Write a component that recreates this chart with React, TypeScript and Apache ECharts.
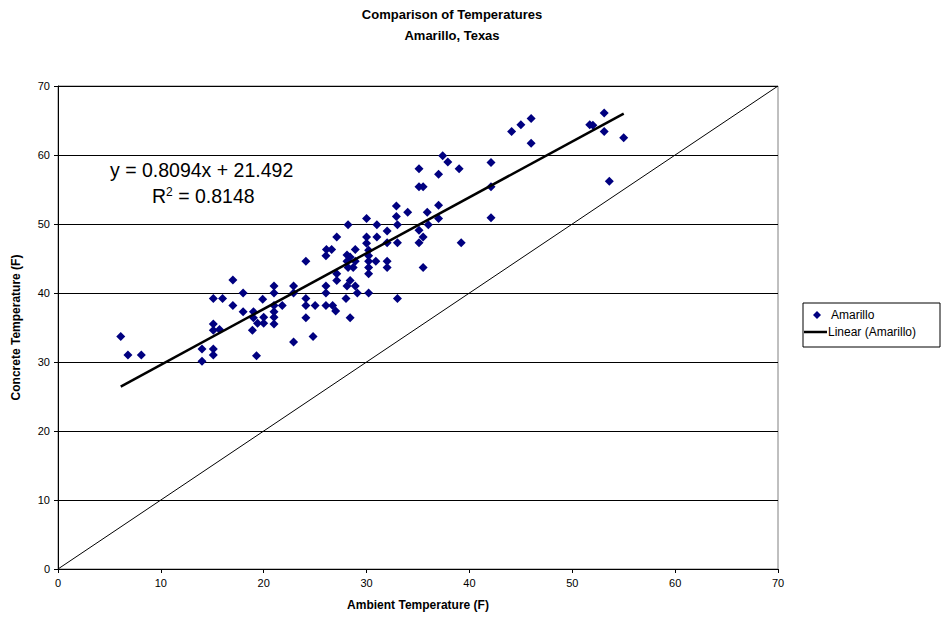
import React, { useEffect, useRef } from "react";
import * as echarts from "echarts";

const titleLines = ["Comparison of Temperatures", "Amarillo, Texas"];
const xAxisName = "Ambient Temperature (F)";
const yAxisName = "Concrete Temperature (F)";
const seriesName = "Amarillo";
const trendName = "Linear (Amarillo)";

// Ambient (x) and concrete (y) temperatures
const ambient = [
  6.1, 6.8, 8.1, 14.0, 14.0, 15.1, 15.1, 15.1, 15.1, 15.1, 15.7, 16.0, 17.0, 17.0, 18.0, 18.0,
  19.0, 19.0, 19.4, 18.9, 20.0, 20.0, 19.9, 19.3, 21.0, 21.0, 21.0, 21.0, 21.0, 21.0, 21.8,
  22.9, 22.9, 22.9, 24.1, 24.1, 24.1, 24.1, 24.8, 25.0, 26.1, 26.6, 26.05, 26.05, 26.05, 26.05,
  26.7, 27.0, 27.1, 27.1, 27.1, 28.2, 28.1, 28.4, 28.1, 28.2, 28.7, 28.4, 28.1, 28.0, 28.4,
  28.9, 28.9, 28.9, 29.1, 30.0, 30.0, 30.0, 30.2, 30.2, 30.2, 30.2, 30.2, 30.2, 31.0, 31.0,
  30.9, 32.0, 32.0, 32.0, 32.0, 32.9, 32.9, 33.0, 33.0, 33.0, 34.0, 35.1, 35.1, 35.5, 35.1,
  35.5, 35.1, 35.5, 35.9, 36.0, 37.0, 37.0, 37.0, 37.4, 37.9, 39.0, 39.2, 42.1, 42.1, 42.1,
  44.1, 45.0, 46.0, 46.0, 51.7, 52.0, 53.1, 53.1, 53.6, 55.0,
];
const concrete = [
  33.7, 31.0, 31.0, 31.9, 30.1, 39.2, 35.5, 34.6, 31.9, 31.0, 34.7, 39.2, 41.9, 38.2, 40.0, 37.3,
  37.3, 36.4, 35.6, 34.6, 36.5, 35.6, 39.1, 30.9, 41.0, 40.0, 38.2, 37.3, 36.5, 35.5, 38.2,
  41.0, 40.0, 32.9, 44.6, 39.2, 38.2, 36.4, 33.7, 38.2, 46.3, 46.3, 45.4, 41.0, 40.0, 38.2,
  38.2, 37.4, 48.1, 42.8, 41.8, 49.9, 45.5, 45.2, 44.6, 43.7, 43.7, 41.8, 41.0, 39.2, 36.4,
  46.3, 44.6, 41.0, 40.0, 50.8, 48.1, 47.2, 46.2, 45.4, 44.6, 43.7, 42.8, 40.0, 49.9, 48.1,
  44.6, 49.0, 47.3, 44.6, 43.7, 52.6, 51.1, 49.9, 47.3, 39.2, 51.7, 58.0, 55.4, 55.4, 49.1,
  48.1, 47.3, 43.7, 51.7, 49.9, 57.2, 52.7, 50.8, 59.9, 59.0, 58.0, 47.3, 58.9, 55.4, 50.9,
  63.4, 64.4, 65.3, 61.7, 64.4, 64.3, 66.1, 63.4, 56.2, 62.5,
];

// Excel linear trendline
const slope = 0.8094;
const intercept = 21.492;
const rSquared = 0.8148;
const trendRange = [6.1, 55.0];
const equalityLine = [0, 70];
const axisTicks = [0, 10, 20, 30, 40, 50, 60, 70];

const FONT = "'Liberation Sans', Arial, sans-serif";

export default function App() {
  const ref = useRef<HTMLDivElement>(null);

  useEffect(() => {
    document.body.style.margin = "0";
    const chart = echarts.init(ref.current!, null, { renderer: "svg" });
    const points = ambient.map((x, i) => [x, concrete[i]]);
    const trend = trendRange.map((x) => [x, slope * x + intercept]);
    const diag = equalityLine.map((v) => [v, v]);

    chart.setOption({
      animation: false,
      backgroundColor: "#ffffff",
      textStyle: { fontFamily: FONT },
      title: {
        text: titleLines[0],
        subtext: titleLines[1],
        left: 447,
        top: 2,
        textAlign: "center",
        itemGap: 7,
        textStyle: { fontFamily: FONT, fontSize: 13, fontWeight: "bold", color: "#000", lineHeight: 14 },
        subtextStyle: { fontFamily: FONT, fontSize: 13, fontWeight: "bold", color: "#000", lineHeight: 14 },
      },
      grid: {
        left: 58,
        right: 164,
        top: 86,
        bottom: 56,
        show: true,
        borderColor: "#808080",
        borderWidth: 1,
        backgroundColor: "transparent",
      },
      xAxis: {
        type: "value",
        min: axisTicks[0],
        max: axisTicks[axisTicks.length - 1],
        interval: 10,
        name: xAxisName,
        nameLocation: "middle",
        nameGap: 30,
        nameTextStyle: { fontFamily: FONT, fontSize: 12, fontWeight: "bold", color: "#000" },
        axisLine: { show: true, onZero: false, lineStyle: { color: "#000", width: 1 } },
        axisTick: { show: true, length: 4, lineStyle: { color: "#000" } },
        axisLabel: { fontFamily: FONT, fontSize: 11, color: "#000", margin: 8 },
        splitLine: { show: false },
      },
      yAxis: {
        type: "value",
        min: axisTicks[0],
        max: axisTicks[axisTicks.length - 1],
        interval: 10,
        name: yAxisName,
        nameLocation: "middle",
        nameRotate: 90,
        nameGap: 36,
        nameTextStyle: { fontFamily: FONT, fontSize: 12, fontWeight: "bold", color: "#000" },
        axisLine: { show: true, onZero: false, lineStyle: { color: "#000", width: 1 } },
        axisTick: { show: true, length: 4, lineStyle: { color: "#000" } },
        axisLabel: { fontFamily: FONT, fontSize: 11, color: "#000", margin: 8 },
        splitLine: { show: true, lineStyle: { color: "#000", width: 1 } },
      },
      series: [
        {
          name: "y = x",
          type: "line",
          data: diag,
          symbol: "none",
          lineStyle: { color: "#000", width: 1 },
          silent: true,
          z: 1,
        },
        {
          name: seriesName,
          type: "scatter",
          data: points,
          symbol: "diamond",
          symbolSize: 9,
          itemStyle: { color: "#000080", opacity: 1 },
          z: 3,
        },
        {
          name: trendName,
          type: "line",
          data: trend,
          symbol: "none",
          lineStyle: { color: "#000", width: 2.5 },
          z: 4,
        },
      ],
      graphic: [
        {
          type: "text",
          x: 110,
          y: 160,
          style: {
            text: `y = ${slope}x + ${intercept}`,
            fontFamily: FONT,
            fontSize: 19.5,
            fill: "#000",
          },
          z: 10,
        },
        {
          type: "text",
          x: 152,
          y: 186,
          style: {
            text: `R{sup|2} = ${rSquared}`,
            fontFamily: FONT,
            fontSize: 19.5,
            fill: "#000",
            rich: {
              sup: { fontFamily: FONT, fontSize: 12, verticalAlign: "top", padding: [0, 0, 8, 0], fill: "#000" },
            },
          },
          z: 10,
        },
        {
          type: "rect",
          shape: { x: 803, y: 303, width: 137, height: 44 },
          style: { fill: "#fff", stroke: "#000", lineWidth: 1 },
          z: 10,
        },
        {
          type: "polygon",
          shape: { points: [[817, 311], [821, 315], [817, 319], [813, 315]] },
          style: { fill: "#000080" },
          z: 11,
        },
        {
          type: "text",
          x: 831,
          y: 315,
          style: { text: seriesName, fontFamily: FONT, fontSize: 12, fill: "#000", verticalAlign: "middle" },
          z: 11,
        },
        {
          type: "line",
          shape: { x1: 804, y1: 332, x2: 827, y2: 332 },
          style: { stroke: "#000", lineWidth: 2.5 },
          z: 11,
        },
        {
          type: "text",
          x: 828,
          y: 332,
          style: { text: trendName, fontFamily: FONT, fontSize: 12, fill: "#000", verticalAlign: "middle" },
          z: 11,
        },
      ],
    });
    return () => chart.dispose();
  }, []);

  return <div ref={ref} style={{ width: 942, height: 625 }} />;
}
